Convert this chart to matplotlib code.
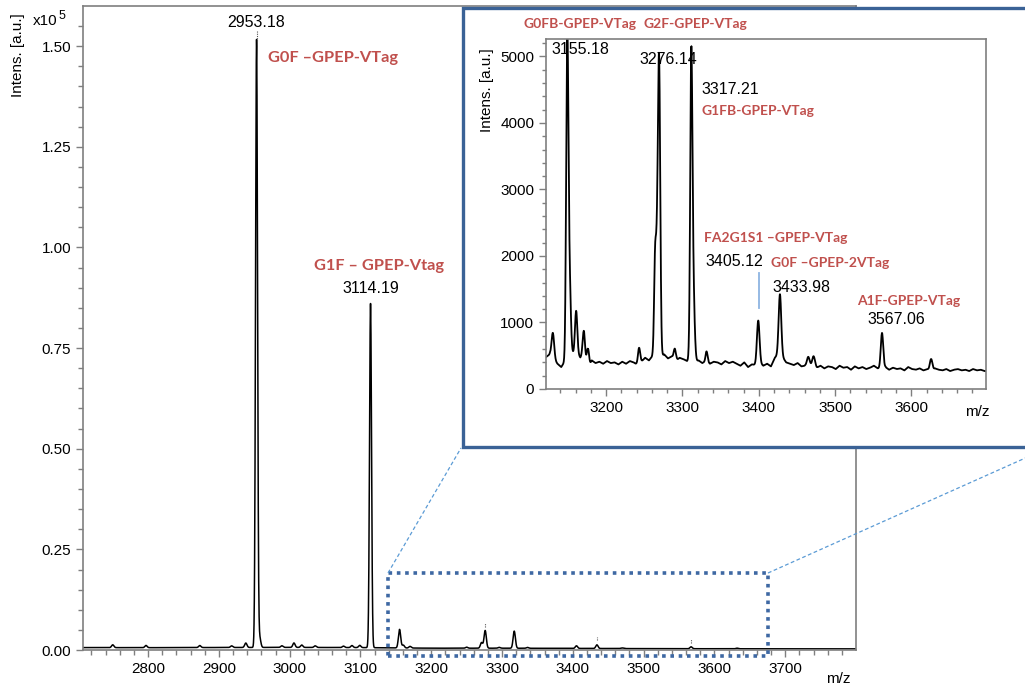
import matplotlib
matplotlib.use("Agg")
import matplotlib.pyplot as plt
import numpy as np
from matplotlib.patches import Rectangle
from matplotlib.lines import Line2D

plt.rcParams['font.family'] = ['Liberation Sans', 'DejaVu Sans']

RED = '#C0504D'
GREY = '#7F7F7F'

# ---- main spectrum (intensity in counts) ----
main_peak_mz = [2953.18, 2957.5, 3114.19, 3155.18, 3160.5, 3170.0, 3250.0, 3271.0, 3276.14,
                3296.0, 3317.21, 3336.0, 3405.12, 3433.98, 3470.0, 3567.06, 3632.0,
                2750.0, 2797.0, 2873.0, 2918.0, 2938.0, 2989.0, 3006.0, 3017.0, 3036.0,
                3076.0, 3088.0, 3099.0]
main_peak_int = [151000, 2500, 85500, 4600, 700, 400, 250, 1400, 4400,
                 200, 4250, 200, 650, 900, 150, 470, 150,
                 700, 550, 500, 400, 1100, 400, 1100, 600, 400,
                 350, 500, 550]
main_peak_sigma = [1.4, 1.6, 1.4, 1.6, 1.6, 1.6, 1.6, 1.6, 1.6,
                   1.6, 1.6, 1.6, 1.6, 1.6, 2.0, 1.6, 1.6,
                   1.6, 1.6, 1.6, 1.6, 1.6, 1.6, 1.6, 1.6, 1.6,
                   1.6, 1.6, 1.6]
main_base_mz = [2708, 2800, 2900, 3000, 3100, 3200, 3300, 3400, 3500, 3600, 3700, 3800]
main_base_int = [600, 580, 620, 650, 600, 450, 450, 400, 340, 310, 290, 280]

# Bruker-style peak label markers (m/z, y-from, y-to in 1e5)
marker_mz = [2953.18, 3276.14, 3433.98, 3567.06]
marker_lo = [1.512, 0.057, 0.025, 0.017]
marker_hi = [1.537, 0.067, 0.032, 0.027]

# ---- zoomed spectrum (inset) ----
inset_peak_mz = [3130.0, 3148.8, 3151.5, 3160.5, 3170.5, 3176.0, 3243.0, 3264.0, 3266.5, 3269.3,
                 3290.0, 3311.5, 3314.0, 3331.6, 3399.3, 3427.8, 3465.0, 3472.0, 3561.6, 3626.0]
inset_peak_int = [380, 4600, 1300, 620, 360, 300, 240, 1400, 1300, 4400,
                  180, 4250, 1100, 150, 650, 920, 150, 140, 540, 180]
inset_peak_sigma = [1.7, 1.4, 1.8, 1.5, 1.5, 1.4, 1.5, 1.3, 1.4, 1.5,
                    1.5, 1.4, 1.8, 1.3, 1.7, 1.7, 1.8, 1.8, 1.6, 1.6]
inset_base_mz = list(range(3121, 3700, 5))
inset_base_int = [480, 520, 450, 380, 330, 420, 450, 520, 560, 470,
                  520, 300, 430, 390, 410, 380, 420, 390, 400, 370,
                  410, 380, 420, 400, 360, 410, 470, 430, 500, 450,
                  480, 520, 460, 490, 410, 470, 450, 420, 480, 400,
                  430, 390, 420, 380, 410, 400, 370, 420, 390, 410,
                  380, 350, 400, 330, 370, 360, 390, 350, 380, 340,
                  470, 520, 480, 400, 380, 360, 390, 340, 350, 330,
                  360, 320, 350, 310, 340, 330, 300, 350, 320, 330,
                  290, 340, 310, 330, 300, 320, 350, 310, 300, 330,
                  290, 320, 300, 310, 280, 330, 300, 290, 310, 280,
                  300, 270, 310, 290, 280, 300, 270, 290, 300, 280,
                  290, 270, 300, 280, 290, 270]

inset_label_mz = 3400.7
inset_label_lo, inset_label_hi = 1220, 1750


def spectrum(x, base_mz, base_int, mz, inten, sig):
    y = np.interp(x, base_mz, base_int)
    for m, a, s in zip(mz, inten, sig):
        y = y + a * np.exp(-0.5 * ((x - m) / s) ** 2)
    return y


fig = plt.figure(figsize=(10.25, 6.87), dpi=100)

# ---------------- main axes ----------------
ax = fig.add_axes([83 / 1025, 37 / 687, 773 / 1025, 644 / 687])
x = np.arange(2708, 3800.01, 0.2)
y = spectrum(x, main_base_mz, main_base_int, main_peak_mz, main_peak_int, main_peak_sigma)
ax.plot(x, y / 1e5, color='black', lw=1.1)
for m, lo, hi in zip(marker_mz, marker_lo, marker_hi):
    ax.plot([m, m], [lo, hi], color='#555555', lw=0.8, ls=(0, (1, 1)))

ax.set_xlim(2708, 3800)
ax.set_ylim(0, 1.6)
ax.set_xticks(np.arange(2800, 3701, 100))
ax.set_xticks(np.arange(2720, 3800, 20), minor=True)
ax.set_yticks(np.arange(0, 1.51, 0.25))
ax.set_yticks(np.arange(0, 1.6, 0.05), minor=True)
ax.set_yticklabels(['%.2f' % v for v in np.arange(0, 1.51, 0.25)])
ax.tick_params(which='both', direction='out', color=GREY, labelsize=11, width=1.0)
ax.tick_params(which='major', length=5)
ax.tick_params(which='minor', length=3.5)
for s in ax.spines.values():
    s.set_color(GREY)
    s.set_linewidth(1.2)

fig.text(18 / 1025, 1 - 55 / 687, 'Intens. [a.u.]', rotation=90, ha='center', va='center', fontsize=11)
fig.text(33 / 1025, 1 - 21 / 687, 'x10', ha='left', va='center', fontsize=11)
fig.text(59 / 1025, 1 - 16 / 687, '5', ha='left', va='center', fontsize=9)
fig.text(838 / 1025, 1 - 679 / 687, 'm/z', ha='center', va='center', fontsize=11)

ax.text(2953.18, 1.54, '2953.18', ha='center', va='bottom', fontsize=11.5)
ax.text(2970, 1.47, 'G0F \u2013GPEP-VTag', ha='left', va='center', fontsize=11.8,
        color=RED, fontweight='bold', family=['Lato', 'DejaVu Sans'])
ax.text(3114.19, 0.88, '3114.19', ha='center', va='bottom', fontsize=11.5)
ax.text(3034, 0.953, 'G1F \u2013 GPEP-Vtag', ha='left', va='center', fontsize=11.8,
        color=RED, fontweight='bold', family=['Lato', 'DejaVu Sans'])

# dotted zoom box
ax.add_patch(Rectangle((3139, -0.0149), 3676 - 3139, 0.1915 + 0.0149, fill=False,
                       edgecolor='#3E68A3', lw=2.6, ls=(0, (1, 1.3)), clip_on=False, zorder=4))

# connector lines (figure pixels)
fig.add_artist(Line2D([388 / 1025, 461 / 1025], [1 - 573 / 687, 1 - 448 / 687],
                      color='#5B9BD5', lw=0.9, ls=(0, (3, 2)), zorder=3))
fig.add_artist(Line2D([768 / 1025, 1050 / 1025], [1 - 573 / 687, 1 - 447 / 687],
                      color='#5B9BD5', lw=0.9, ls=(0, (3, 2)), zorder=3))

# inset frame
fig.add_artist(Rectangle((463 / 1025, 1 - 447 / 687), (1048 - 463) / 1025, (447 - 8) / 687,
                         transform=fig.transFigure, facecolor='white', edgecolor='#3A6296',
                         lw=2.4, zorder=5))

# ---------------- inset axes ----------------
axi = fig.add_axes([546 / 1025, 1 - 389 / 687, 440 / 1025, 350.5 / 687], zorder=6)
xi = np.arange(3121, 3698.01, 0.25)
yi = spectrum(xi, inset_base_mz, inset_base_int, inset_peak_mz, inset_peak_int, inset_peak_sigma)
axi.plot(xi, yi, color='black', lw=1.3)
axi.plot([inset_label_mz, inset_label_mz], [inset_label_lo, inset_label_hi], color='#8DB4E2', lw=1.3)
axi.set_xlim(3121, 3698)
axi.set_ylim(0, 5270)
axi.set_xticks(np.arange(3200, 3601, 100))
axi.set_xticks(np.arange(3140, 3698, 20), minor=True)
axi.set_yticks(np.arange(0, 5001, 1000))
axi.set_yticks(np.arange(0, 5270, 200), minor=True)
axi.tick_params(which='both', direction='out', color=GREY, labelsize=11, width=1.0)
axi.tick_params(which='major', length=5)
axi.tick_params(which='minor', length=3)
for s in axi.spines.values():
    s.set_color(GREY)
    s.set_linewidth(1.2)

fig.text(487 / 1025, 1 - 90 / 687, 'Intens. [a.u.]', rotation=90, ha='center', va='center',
         fontsize=11, zorder=7)
fig.text(977 / 1025, 1 - 412 / 687, 'm/z', ha='center', va='center', fontsize=11, zorder=7)

lab = dict(color=RED, fontweight='bold', fontsize=10, family=['Lato', 'DejaVu Sans'],
           transform=fig.transFigure, va='center', ha='left', zorder=7)
num = dict(fontsize=11.5, transform=fig.transFigure, va='center', ha='left', zorder=7)
fig.text(524 / 1025, 1 - 24 / 687, 'G0FB-GPEP-VTag', **lab)
fig.text(644 / 1025, 1 - 24 / 687, 'G2F-GPEP-VTag', **lab)
fig.text(701 / 1025, 1 - 111 / 687, 'G1FB-GPEP-VTag', **lab)
fig.text(704 / 1025, 1 - 238 / 687, 'FA2G1S1 \u2013GPEP-VTag', **lab)
fig.text(771 / 1025, 1 - 263 / 687, 'G0F \u2013GPEP-2VTag', **lab)
fig.text(857 / 1025, 1 - 301 / 687, 'A1F-GPEP-VTag', **lab)
fig.text(551 / 1025, 1 - 50 / 687, '3155.18', **num)
fig.text(639 / 1025, 1 - 59 / 687, '3276.14', **num)
fig.text(701 / 1025, 1 - 90 / 687, '3317.21', **num)
fig.text(705 / 1025, 1 - 262 / 687, '3405.12', **num)
fig.text(772 / 1025, 1 - 287 / 687, '3433.98', **num)
fig.text(867 / 1025, 1 - 319 / 687, '3567.06', **num)

fig.savefig('out.png', dpi=100)
